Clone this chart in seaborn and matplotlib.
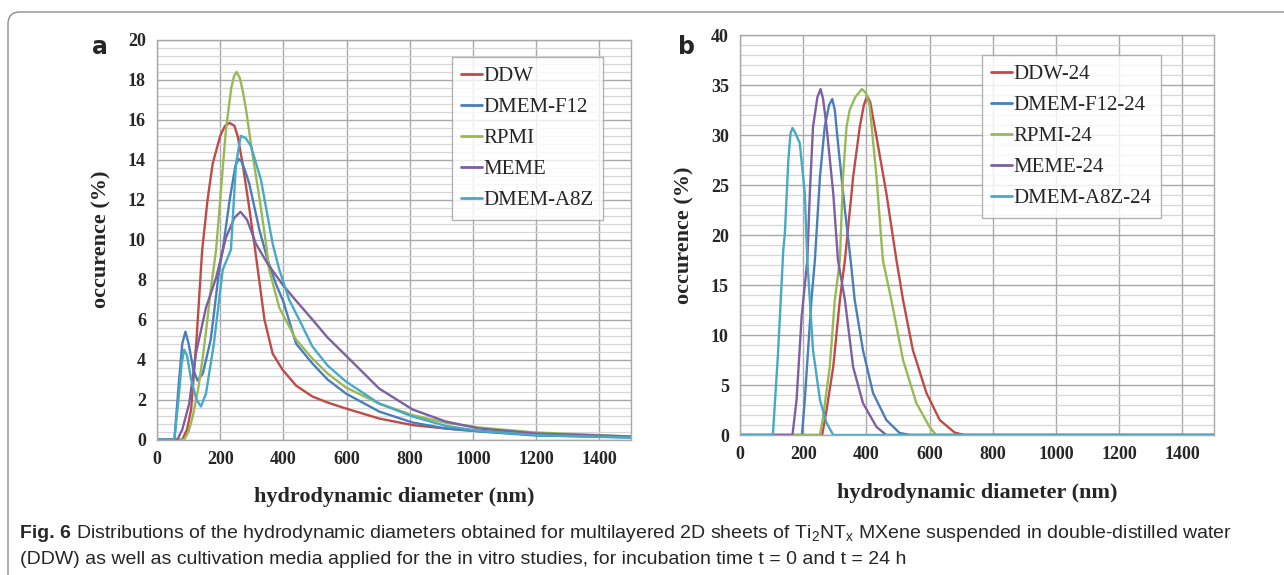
import numpy as np
import pandas as pd
import matplotlib
matplotlib.use('Agg')
import matplotlib.pyplot as plt
from matplotlib.patches import FancyBboxPatch
from matplotlib.transforms import IdentityTransform
import seaborn as sns

# panel a : t = 0
ddw_x = [0, 80, 95, 108, 125, 143, 160, 176, 200, 215, 230, 245, 255, 271, 290, 308, 340, 366, 397, 440, 492, 540, 598, 703, 809, 914, 1020, 1200, 1500]
ddw_y = [0, 0, 0.5, 1.5, 5.0, 9.5, 12.0, 13.8, 15.2, 15.7, 15.85, 15.7, 15.2, 13.8, 11.8, 9.8, 6.0, 4.3, 3.5, 2.7, 2.15, 1.85, 1.55, 1.05, 0.72, 0.55, 0.42, 0.25, 0.12]
f12_x = [0, 55, 70, 80, 90, 100, 115, 128, 145, 170, 197, 208, 230, 248, 258, 268, 280, 292, 324, 350, 376, 400, 440, 492, 540, 598, 703, 809, 914, 1020, 1200, 1500]
f12_y = [0, 0, 3.0, 4.8, 5.4, 4.8, 3.5, 2.95, 3.3, 5.0, 8.5, 9.5, 12.0, 13.7, 14.05, 13.9, 13.4, 12.8, 10.5, 9.0, 7.8, 6.9, 4.8, 3.8, 3.0, 2.3, 1.4, 0.85, 0.55, 0.4, 0.2, 0.1]
rpmi_x = [0, 86, 100, 113, 130, 144, 158, 171, 187, 200, 218, 235, 244, 252, 262, 272, 282, 300, 324, 345, 355, 387, 440, 492, 540, 598, 703, 809, 914, 1020, 1200, 1500]
rpmi_y = [0, 0, 0.4, 1.15, 2.5, 4.0, 5.8, 7.6, 9.5, 12.0, 15.5, 17.6, 18.2, 18.4, 18.1, 17.4, 16.5, 14.5, 12.1, 9.8, 8.5, 6.6, 5.0, 4.05, 3.3, 2.6, 1.8, 1.22, 0.84, 0.6, 0.35, 0.15]
meme_x = [0, 65, 80, 102, 123, 155, 187, 218, 245, 264, 285, 313, 350, 400, 440, 492, 540, 598, 703, 809, 914, 1020, 1200, 1500]
meme_y = [0, 0, 0.5, 1.8, 4.3, 6.6, 8.1, 10.1, 11.1, 11.4, 11.0, 9.8, 8.8, 7.7, 6.95, 6.0, 5.1, 4.2, 2.55, 1.5, 0.9, 0.55, 0.3, 0.15]
a8z_x = [0, 55, 68, 78, 86, 95, 108, 125, 139, 155, 180, 208, 234, 250, 265, 280, 297, 329, 366, 387, 418, 450, 492, 540, 598, 703, 809, 914, 1020, 1200, 1500]
a8z_y = [0, 0, 2.0, 3.8, 4.5, 4.2, 3.0, 2.0, 1.65, 2.3, 4.8, 8.5, 9.5, 13.8, 15.2, 15.1, 14.7, 13.0, 9.8, 8.5, 7.0, 6.0, 4.65, 3.7, 2.9, 1.8, 1.15, 0.68, 0.43, 0.22, 0.1]

# panel b : t = 24 h
ddw24_x = [0, 260, 274, 295, 316, 332, 358, 379, 392, 402, 412, 432, 463, 495, 516, 547, 590, 632, 679, 710, 1500]
ddw24_y = [0, 0, 2.5, 6.8, 13.5, 17.5, 25.8, 30.8, 33.0, 33.9, 33.3, 29.8, 24.2, 17.5, 13.5, 8.5, 4.2, 1.5, 0.25, 0, 0]
f1224_x = [0, 196, 205, 226, 237, 253, 268, 282, 292, 300, 310, 332, 350, 363, 389, 421, 463, 505, 540, 1500]
f1224_y = [0, 0, 3.5, 13.5, 17.5, 25.8, 30.8, 33.0, 33.6, 32.5, 29.2, 22.5, 17.5, 13.5, 8.5, 4.2, 1.5, 0.2, 0, 0]
rpmi24_x = [0, 253, 263, 284, 300, 316, 326, 337, 347, 365, 386, 398, 410, 432, 452, 479, 516, 558, 600, 621, 1500]
rpmi24_y = [0, 0, 1.8, 6.8, 13.5, 17.5, 25.8, 30.8, 32.5, 33.8, 34.6, 34.2, 33.0, 25.8, 17.5, 13.5, 7.5, 3.2, 0.8, 0, 0]
meme24_x = [0, 166, 179, 195, 213, 221, 231, 245, 255, 263, 274, 295, 310, 332, 358, 389, 432, 463, 1500]
meme24_y = [0, 0, 3.5, 11.8, 17.5, 24.2, 30.8, 33.8, 34.6, 33.6, 30.8, 24.2, 17.5, 13.5, 6.8, 3.2, 0.8, 0, 0]
a8z24_x = [0, 104, 120, 137, 142, 153, 160, 166, 175, 189, 205, 213, 231, 253, 274, 295, 1500]
a8z24_y = [0, 0, 8.0, 18.5, 20.2, 27.5, 30.2, 30.7, 30.2, 29.2, 24.2, 17.5, 8.5, 3.5, 1.2, 0, 0]

names_a = ['DDW', 'DMEM-F12', 'RPMI', 'MEME', 'DMEM-A8Z']
names_b = ['DDW-24', 'DMEM-F12-24', 'RPMI-24', 'MEME-24', 'DMEM-A8Z-24']
colors = ['#BE4B48', '#4A7EBB', '#98B954', '#7D60A0', '#46AAC5']

curves_a = [(ddw_x, ddw_y), (f12_x, f12_y), (rpmi_x, rpmi_y), (meme_x, meme_y), (a8z_x, a8z_y)]
curves_b = [(ddw24_x, ddw24_y), (f1224_x, f1224_y), (rpmi24_x, rpmi24_y), (meme24_x, meme24_y), (a8z24_x, a8z24_y)]


def long_df(names, curves):
    parts = []
    for n, (xs, ys) in zip(names, curves):
        parts.append(pd.DataFrame({'d': xs, 'occ': ys, 'sample': n}))
    return pd.concat(parts, ignore_index=True)


df_a = long_df(names_a, curves_a)
df_b = long_df(names_b, curves_b)

sns.set_style('white')
plt.rcParams['font.family'] = ['Liberation Serif', 'DejaVu Serif']

fig = plt.figure(figsize=(12.84, 5.75), dpi=100)
W, H = 1284, 575
ax_a = fig.add_axes([157 / W, 1 - 439.5 / H, 474 / W, 399.5 / H])
ax_b = fig.add_axes([740 / W, 1 - 435 / H, 474 / W, 400 / H])


def style_axis(ax, df, names, ymax, ymajor, yminor, leg_anchor):
    sns.lineplot(data=df, x='d', y='occ', hue='sample', hue_order=names, palette=colors,
                 estimator=None, sort=False, lw=1.7, ax=ax)
    ax.set_xlim(0, 1500)
    ax.set_ylim(0, ymax)
    ax.set_xticks(np.arange(0, 1401, 200))
    ax.set_yticks(np.arange(0, ymax + 0.01, ymajor))
    ax.set_yticks(np.arange(0, ymax + 0.01, yminor), minor=True)
    ax.grid(which='major', color='#a8a8a8', lw=1.0)
    ax.grid(which='minor', axis='y', color='#d6d6d6', lw=0.9)
    ax.set_axisbelow(True)
    for s in ax.spines.values():
        s.set_color('#a8a8a8')
        s.set_linewidth(1.0)
    ax.tick_params(axis='both', which='major', length=4, color='#a8a8a8', labelsize=13, pad=4)
    ax.tick_params(axis='both', which='minor', length=0)
    for lab in ax.get_xticklabels() + ax.get_yticklabels():
        lab.set_fontweight('bold')
    ax.set_xlabel('hydrodynamic diameter (nm)', fontsize=16, fontweight='bold', labelpad=14)
    ax.set_ylabel('occurence (%)', fontsize=16, fontweight='bold', labelpad=12)
    leg = ax.legend(loc='upper left', bbox_to_anchor=leg_anchor, frameon=True, fancybox=False,
                    prop={'family': 'Liberation Serif', 'size': 15}, handlelength=1.0,
                    handletextpad=0.05, labelspacing=0.55, borderpad=0.45, borderaxespad=0)
    leg.get_frame().set_edgecolor('#a0a0a0')
    leg.get_frame().set_linewidth(1.0)
    for line in leg.get_lines():
        line.set_linewidth(2.0)


style_axis(ax_a, df_a, names_a, 20, 2, 0.4, ((452 - 157) / 474, 1 - (57 - 40) / 399.5))
style_axis(ax_b, df_b, names_b, 40, 5, 1, ((982 - 740) / 474, 1 - (55 - 35) / 400))

# panel letters
fig.text(92 / W, 1 - 47 / H, 'a', fontsize=17, fontweight='bold', family='DejaVu Sans', va='center')
fig.text(678 / W, 1 - 47 / H, 'b', fontsize=17, fontweight='bold', family='DejaVu Sans', va='center')

# caption
cap_font = ['Liberation Sans', 'DejaVu Sans']
fig.text(20 / W, 1 - 534 / H, 'Fig. 6', fontsize=14, fontweight='bold', family=cap_font, va='center')
fig.text(76 / W, 1 - 534 / H,
         'Distributions of the hydrodynamic diameters obtained for multilayered 2D sheets of '
         r'Ti$_\mathregular{2}$NT$_\mathregular{x}$ MXene suspended in double-distilled water',
         fontsize=14, family=cap_font, va='center')
fig.text(20 / W, 1 - 560 / H,
         '(DDW) as well as cultivation media applied for the in vitro studies, for incubation time t = 0 and t = 24 h',
         fontsize=14, family=cap_font, va='center')

# rounded frame around the figure
frame = FancyBboxPatch((8, -60), 1400, 563 + 60, boxstyle='round,pad=0,rounding_size=12',
                       transform=IdentityTransform(), fill=False, edgecolor='#8c8c8c', lw=1.0)
fig.add_artist(frame)

plt.savefig('out.png', dpi=100)
